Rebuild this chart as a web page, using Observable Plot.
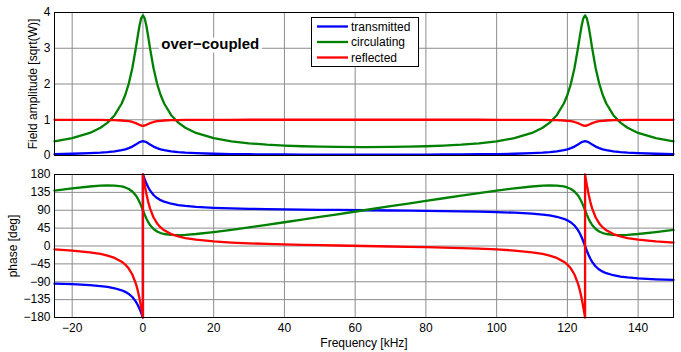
<!DOCTYPE html>
<html><head><meta charset="utf-8">
<script src="https://cdn.jsdelivr.net/npm/d3@7"></script>
<script src="https://cdn.jsdelivr.net/npm/@observablehq/plot@0.6"></script>
<style>
body{margin:0;background:#fff;font-family:"Liberation Sans",Arial,sans-serif;}
#wrap{position:relative;width:681px;height:352px;}
#wrap svg{display:block;}
#legend{position:absolute;left:311px;top:17px;}
</style></head><body>
<div id="wrap"><div id="top"></div><div id="bottom"></div><svg id="legend" width="108" height="50"></svg></div>
<script>
// ---- data ----
const seriesNames = ["transmitted", "circulating", "reflected"];
const seriesColors = ["#0000ff", "#008000", "#ff0000"];
const xTicks = [-20, 0, 20, 40, 60, 80, 100, 120, 140];
const ampTicks = [0, 1, 2, 3, 4];
const phaseTicks = [-180, -135, -90, -45, 0, 45, 90, 135, 180];
const annotation = {x: 5.2, y: 3.1, label: "over−coupled"};
const yLabelTop = "Field amplitude [sqrt(W)]";
const yLabelBottom = "phase [deg]";
const xLabel = "Frequency [kHz]";

const freq = [-25,-20,-15,-12,-10,-8,-6,-5,-4,-3,-2,-1.5,-1,-0.5,0,0.5,1,1.5,2,3,4,5,6,8,10,12,15,20,25,30,35,40,45,50,55,62.5,70,75,80,85,90,95,100,105,110,113,115,117,119,120,121,122,123,123.5,124,124.5,125,125.5,126,126.5,127,128,129,130,131,133,135,137,140,145,150];

const transmittedAmp = [0.041,0.049,0.064,0.079,0.094,0.115,0.148,0.173,0.205,0.249,0.307,0.339,0.369,0.391,
  0.400,
  0.391,0.369,0.339,0.307,0.249,0.205,0.173,0.148,0.115,0.094,0.079,0.064,0.049,0.041,0.035,0.031,0.028,0.026,0.025,0.024,
  0.024,
  0.024,0.025,0.026,0.028,0.031,0.035,0.041,0.049,0.064,0.079,0.094,0.115,0.148,0.173,0.205,0.249,0.307,0.339,0.369,0.391,
  0.400,
  0.391,0.369,0.339,0.307,0.249,0.205,0.173,0.148,0.115,0.094,0.079,0.064,0.049,0.041];

const circulatingAmp = [0.398,0.484,0.631,0.776,0.919,1.128,1.454,1.693,2.011,2.442,3.005,3.320,3.616,3.837,
  3.920,
  3.837,3.616,3.320,3.005,2.442,2.011,1.693,1.454,1.128,0.919,0.776,0.631,0.484,0.398,0.342,0.304,0.278,0.259,0.247,0.239,
  0.235,
  0.239,0.247,0.259,0.278,0.304,0.342,0.398,0.484,0.631,0.776,0.919,1.128,1.454,1.693,2.011,2.442,3.005,3.320,3.616,3.837,
  3.920,
  3.837,3.616,3.320,3.005,2.442,2.011,1.693,1.454,1.128,0.919,0.776,0.631,0.484,0.398];

const reflectedAmp = [0.999,0.998,0.997,0.994,0.992,0.988,0.979,0.971,0.959,0.938,0.905,0.882,0.858,0.839,
  0.831,
  0.839,0.858,0.882,0.905,0.938,0.959,0.971,0.979,0.988,0.992,0.994,0.997,0.998,0.999,1.000,1.000,1.000,1.000,1.000,1.000,
  1.000,
  1.000,1.000,1.000,1.000,1.000,1.000,0.999,0.998,0.997,0.994,0.992,0.988,0.979,0.971,0.959,0.938,0.905,0.882,0.858,0.839,
  0.831,
  0.839,0.858,0.882,0.905,0.938,0.959,0.971,0.979,0.988,0.992,0.994,0.997,0.998,0.999];

const phaseFreq = [-25,-20,-15,-12,-10,-8,-6,-5,-4,-3,-2,-1.5,-1,-0.5,0,0,0.5,1,1.5,2,3,4,5,6,8,10,12,15,20,25,30,35,40,45,50,55,62.5,70,75,80,85,90,95,100,105,110,113,115,117,119,120,121,122,123,123.5,124,124.5,125,125,125.5,126,126.5,127,128,129,130,131,133,135,137,140,145,150];

const transmittedPhase = [-94.7,-96.2,-98.6,-100.9,-103.1,-106.4,-111.5,-115.4,-120.7,-128.4,-140.0,-147.8,-157.2,-168.2,
  -180,180,
  168.2,157.2,147.8,140.0,128.4,120.7,115.4,111.5,106.4,103.1,100.9,98.6,96.2,94.7,93.7,92.8,92.2,91.6,91.1,90.7,
  90.0,
  89.4,88.9,88.4,87.8,87.2,86.4,85.3,83.8,81.4,79.1,76.9,73.6,68.5,64.6,59.3,51.6,40.0,32.2,22.8,11.9,
  0,0,
  -11.9,-22.8,-32.2,-40.0,-51.6,-59.3,-64.6,-68.5,-73.6,-76.9,-79.1,-81.4,-83.8,-85.3];

const circulatingPhase = [139.3,145.0,149.8,151.8,152.5,152.1,149.9,147.4,143.6,137.3,127.2,120.1,111.3,101.1,
  90,90,
  78.9,68.7,60.0,52.9,42.7,36.5,32.6,30.2,27.9,27.5,28.2,30.2,35.0,40.7,46.9,53.2,59.8,66.4,73.1,79.9,
  90,
  100.2,106.9,113.6,120.2,126.8,133.2,139.3,145.0,149.8,151.8,152.5,152.1,149.9,147.4,143.6,137.3,127.2,120.1,111.3,101.1,
  90,90,
  78.9,68.7,60.0,52.9,42.7,36.5,32.6,30.2,27.9,27.5,28.2,30.2,35.0,40.7];

const reflectedPhase = [-8.6,-11.4,-15.8,-20.0,-24.1,-30.1,-39.6,-46.8,-56.9,-71.8,-94.6,-110.6,-130.4,-154.0,
  -180,180,
  154.0,130.4,110.6,94.6,71.8,56.9,46.8,39.6,30.1,24.1,20.0,15.8,11.4,8.6,6.7,5.2,4.0,3.0,2.0,1.2,
  0,
  -1.2,-2.0,-3.0,-4.0,-5.2,-6.7,-8.6,-11.4,-15.8,-20.0,-24.1,-30.1,-39.6,-46.8,-56.9,-71.8,-94.6,-110.6,-130.4,-154.0,
  -180,180,
  154.0,130.4,110.6,94.6,71.8,56.9,46.8,39.6,30.1,24.1,20.0,15.8,11.4,8.6];

// ---- tables built from the arrays ----
const ampSeries = [transmittedAmp, circulatingAmp, reflectedAmp];
const phaseSeries = [transmittedPhase, circulatingPhase, reflectedPhase];
const ampRows = seriesNames.flatMap((s, k) => freq.map((f, i) => ({f, v: ampSeries[k][i], s})));
const phaseRows = seriesNames.flatMap((s, k) => phaseFreq.map((f, i) => ({f, v: phaseSeries[k][i], s})));

const font = "Liberation Sans, Arial, sans-serif";
const gridColor = "#8c8c8c";
const common = {
  width: 681, marginLeft: 54, marginRight: 8,
  style: {fontFamily: font, fontSize: "12px", color: "#000", background: "transparent", overflow: "visible"},
  color: {domain: seriesNames, range: seriesColors}
};

const topPlot = Plot.plot({
  ...common,
  height: 165, marginTop: 12, marginBottom: 10,
  x: {domain: [-25, 150], axis: null},
  y: {domain: [0, 4]},
  marks: [
    Plot.gridX(xTicks, {stroke: gridColor, strokeOpacity: 1}),
    Plot.gridY(ampTicks.slice(1, -1), {stroke: gridColor, strokeOpacity: 1}),
    Plot.axisY(ampTicks, {tickSize: 0, tickPadding: 4, label: null, fontSize: 12}),
    Plot.line(ampRows, {x: "f", y: "v", stroke: "s", strokeWidth: 2.3, strokeLinejoin: "round"}),
    Plot.text([annotation], {x: "x", y: "y", text: "label", textAnchor: "start", fontWeight: "bold",
      fontSize: 15, fill: "#000", stroke: "#fff", strokeWidth: 7}),
    Plot.frame({stroke: "#000"}),
    Plot.text([yLabelTop], {frameAnchor: "left", dx: -21, rotate: -90, textAnchor: "middle", lineAnchor: "middle", fontSize: 12, fill: "#000"})
  ]
});

const bottomPlot = Plot.plot({
  ...common,
  height: 187, marginTop: 9, marginBottom: 35,
  x: {domain: [-25, 150]},
  y: {domain: [-180, 180]},
  marks: [
    Plot.gridX(xTicks, {stroke: gridColor, strokeOpacity: 1}),
    Plot.gridY(phaseTicks.slice(1, -1), {stroke: gridColor, strokeOpacity: 1}),
    Plot.axisX(xTicks, {tickSize: 0, tickPadding: 6, label: null, fontSize: 12}),
    Plot.axisY(phaseTicks, {tickSize: 0, tickPadding: 4, label: null, fontSize: 12}),
    Plot.line(phaseRows, {x: "f", y: "v", stroke: "s", strokeWidth: 2.3, strokeLinejoin: "round"}),
    Plot.frame({stroke: "#000"}),
    Plot.text([yLabelBottom], {frameAnchor: "left", dx: -41, rotate: -90, textAnchor: "middle", lineAnchor: "middle", fontSize: 12, fill: "#000"}),
    Plot.text([xLabel], {frameAnchor: "bottom", dy: 26, textAnchor: "middle", lineAnchor: "middle", fontSize: 12, fill: "#000"})
  ]
});

document.getElementById("top").appendChild(topPlot);
document.getElementById("bottom").appendChild(bottomPlot);

// legend
const lg = d3.select("#legend");
lg.append("rect").attr("x", 0.5).attr("y", 0.5).attr("width", 107).attr("height", 49)
  .attr("fill", "#fff").attr("stroke", "#000");
seriesNames.forEach((name, i) => {
  const y = 9.5 + i * 15.5;
  lg.append("line").attr("x1", 6).attr("x2", 37).attr("y1", y).attr("y2", y)
    .attr("stroke", seriesColors[i]).attr("stroke-width", 2.3);
  lg.append("text").attr("x", 40).attr("y", y).attr("dy", "0.35em")
    .attr("font-family", font).attr("font-size", 12).attr("fill", "#000").text(name);
});
</script>
</body></html>
